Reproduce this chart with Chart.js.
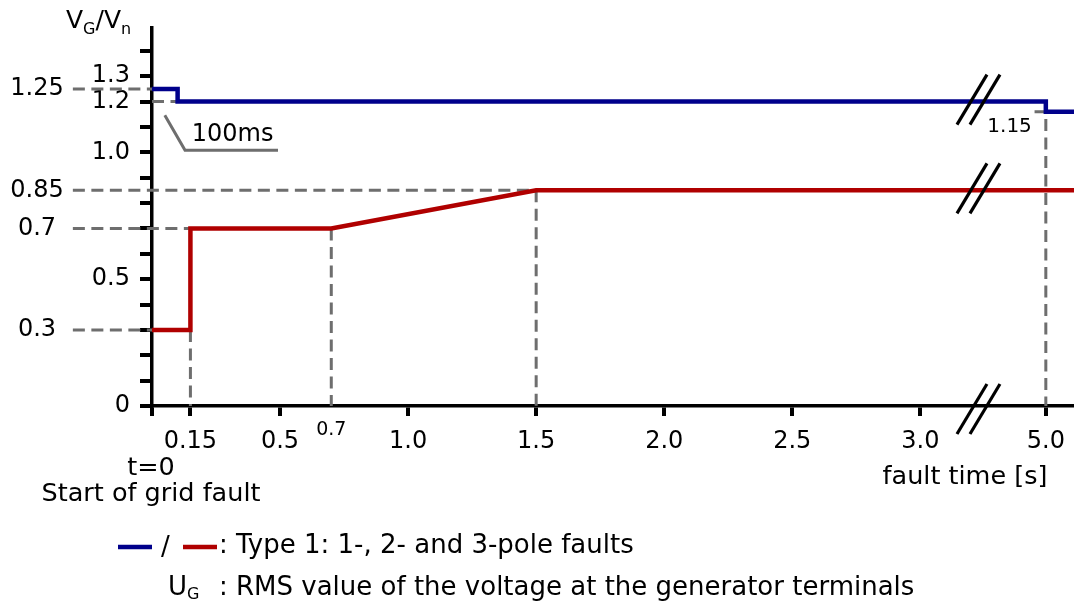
<!DOCTYPE html>
<html><head><meta charset="utf-8">
<script src="https://cdn.jsdelivr.net/npm/chart.js@4/dist/chart.umd.min.js"></script>
<style>html,body{margin:0;padding:0;background:#fff;overflow:hidden}#wrap{width:1074px;height:605px}</style>
</head><body><div id="wrap"><canvas id="c" width="1074" height="605"></canvas></div>
<script>
// ---- data (time in s, voltage in p.u.) ----
const blueTime = [0, 0.1, 0.1, 5.0, 5.0, 5.5];
const blueVolt = [1.25, 1.25, 1.2, 1.2, 1.16, 1.16];
const redTime = [0, 0.15, 0.15, 0.7, 1.5, 5.5];
const redVolt = [0.3, 0.3, 0.7, 0.7, 0.85, 0.85];
const xTickTimes = [0, 0.15, 0.5, 1.0, 1.5, 2.0, 2.5, 3.0, 5.0];
const xTickLabels = ['', '0.15', '0.5', '1.0', '1.5', '2.0', '2.5', '3.0', '5.0'];
const yTickValues = [0, 0.1, 0.2, 0.3, 0.4, 0.5, 0.6, 0.7, 0.8, 0.9, 1.0, 1.1, 1.2, 1.3, 1.4];
const yTickLabels = ['0', '', '', '', '', '0.5', '', '', '', '', '1.0', '', '1.2', '1.3', ''];
const markValues = [1.25, 0.85, 0.7, 0.3];
const markLabels = ['1.25', '0.85', '0.7', '0.3'];
const markEndTimes = [0, 1.5, 0.15, 0];
const dropTimes = [0.15, 0.7, 1.5, 5.0];
const dropValues = [0.3, 0.7, 0.85, 1.16];

// ---- axis break mapping ----
const BREAK_FROM = 3.2, BREAK_TO = 5.0, BREAK_POS = 3.49, TAIL_SCALE = 0.22;
function axisX(t) { return t <= BREAK_FROM ? t : BREAK_POS + (t - BREAK_TO) * TAIL_SCALE; }
const LEADER_X = -0.309;   // where the left leader lines start (axis units)
const BREAK_MARK_X = 3.227;

const BLUE = '#00008b', RED = '#b00000', GRAY = '#6e6e6e';
const FONT = 'DejaVu Sans';

function pts(ts, vs) { return ts.map((t, i) => ({ x: axisX(t), y: vs[i] })); }
function guide(points, clip) {
  return { data: points, borderColor: GRAY, borderWidth: 3, borderDash: [12, 6.5], pointRadius: 0,
    fill: false, tension: 0, order: 2, clip: clip ? undefined : false, borderCapStyle: 'butt' };
}

const datasets = [];
markValues.forEach((v, i) => {
  datasets.push(guide([{ x: LEADER_X, y: v }, { x: axisX(markEndTimes[i]), y: v }], false));
});
datasets.push(guide([{ x: 0, y: 1.2 }, { x: axisX(0.1), y: 1.2 }], true));
dropTimes.forEach((t, i) => {
  const p = [{ x: axisX(t), y: dropValues[i] }, { x: axisX(t), y: 0 }];
  if (t === 5.0) p.unshift({ x: axisX(4.8), y: dropValues[i] });
  datasets.push(guide(p, true));
});
datasets.push({ data: pts(redTime, redVolt), borderColor: RED, borderWidth: 4.5, pointRadius: 0, order: 0,
  borderJoinStyle: 'miter', borderCapStyle: 'butt', clip: false });
datasets.push({ data: pts(blueTime, blueVolt), borderColor: BLUE, borderWidth: 4.5, pointRadius: 0, order: 0,
  borderJoinStyle: 'miter', borderCapStyle: 'butt', clip: false });

const annot = {
  id: 'annot',
  afterDatasetsDraw(chart) {
    const ctx = chart.ctx, xs = chart.scales.x, ys = chart.scales.y;
    const X = v => xs.getPixelForValue(v), Y = v => ys.getPixelForValue(v);
    ctx.save();
    // break marks
    ctx.strokeStyle = '#000'; ctx.lineWidth = 3.2; ctx.lineCap = 'butt';
    [1.2, 0.85, 0].forEach(v => {
      const cx = X(BREAK_MARK_X), cy = Y(v) + (v === 0 ? 3 : -2);
      [-6.5, 6.5].forEach(d => {
        ctx.beginPath(); ctx.moveTo(cx + d - 15, cy + 25); ctx.lineTo(cx + d + 15, cy - 25); ctx.stroke();
      });
    });
    // 100ms callout
    ctx.strokeStyle = GRAY; ctx.lineWidth = 3;
    ctx.beginPath(); ctx.moveTo(X(0.05), Y(1.146)); ctx.lineTo(X(0.129), Y(1.008)); ctx.lineTo(X(0.492), Y(1.008)); ctx.stroke();
    ctx.fillStyle = '#000';
    ctx.textBaseline = 'middle';
    ctx.font = '24px ' + FONT; ctx.textAlign = 'left';
    ctx.fillText('100ms', X(0.155), Y(1.068));
    // outer labels
    ctx.textAlign = 'center';
    markValues.forEach((v, i) => ctx.fillText(markLabels[i], 37, Y(v)));
    // small labels
    ctx.font = '19px ' + FONT; ctx.textAlign = 'center';
    ctx.fillText('0.7', X(0.7), 430);
    ctx.font = '20px ' + FONT; ctx.textAlign = 'right';
    ctx.fillText('1.15', X(axisX(5.0)) - 14, Y(1.16) + 15);
    // bottom annotations
    ctx.font = '25.5px ' + FONT; ctx.textAlign = 'center';
    ctx.fillText('t=0', 151, 468);
    ctx.fillText('Start of grid fault', 151, 494);
    ctx.fillText('fault time [s]', 965, 477);
    // y title
    ctx.textAlign = 'left'; ctx.textBaseline = 'alphabetic';
    let x = 66;
    ctx.font = '25px ' + FONT; ctx.fillText('V', x, 28); x += ctx.measureText('V').width;
    ctx.font = '16px ' + FONT; ctx.fillText('G', x, 34); x += ctx.measureText('G').width;
    ctx.font = '25px ' + FONT; ctx.fillText('/V', x, 28); x += ctx.measureText('/V').width;
    ctx.font = '16px ' + FONT; ctx.fillText('n', x, 34);
    // legend
    ctx.lineWidth = 4.5;
    ctx.strokeStyle = BLUE; ctx.beginPath(); ctx.moveTo(118, 547); ctx.lineTo(152, 547); ctx.stroke();
    ctx.strokeStyle = RED; ctx.beginPath(); ctx.moveTo(183, 547); ctx.lineTo(217, 547); ctx.stroke();
    ctx.font = '26px ' + FONT; ctx.textBaseline = 'middle';
    ctx.fillText('/', 161, 548);
    ctx.fillText(': Type 1: 1-, 2- and 3-pole faults', 219, 546);
    ctx.fillText('U', 168, 588);
    ctx.font = '16px ' + FONT; ctx.fillText('G', 187, 595);
    ctx.font = '26px ' + FONT;
    ctx.fillText(': RMS value of the voltage at the generator terminals', 219, 588);
    ctx.restore();
  }
};

new Chart(document.getElementById('c'), {
  type: 'line',
  data: { datasets },
  options: {
    responsive: false, animation: false, devicePixelRatio: 1,
    layout: { padding: { top: 28, left: 0, right: 0, bottom: 0 } },
    plugins: { legend: { display: false }, tooltip: { enabled: false } },
    elements: { line: { tension: 0 } },
    scales: {
      x: {
        type: 'linear', min: 0, max: 3.6,
        afterBuildTicks: s => { s.ticks = xTickTimes.map(t => ({ value: axisX(t) })); },
        afterFit: s => { s.height = 199; s.paddingLeft = 0; s.paddingRight = 0; },
        ticks: { callback: (v, i) => xTickLabels[i], autoSkip: false, maxRotation: 0, color: '#000',
          font: { family: FONT, size: 24 }, padding: 11 },
        grid: { drawOnChartArea: false, color: '#000', lineWidth: 4, tickLength: 10 },
        border: { color: '#000', width: 3.5 }
      },
      y: {
        type: 'linear', min: 0, max: 1.49,
        afterBuildTicks: s => { s.ticks = yTickValues.map(v => ({ value: v })); },
        afterFit: s => { s.width = 152; s.paddingTop = 0; s.paddingBottom = 0; },
        ticks: { callback: (v, i) => yTickLabels[i], autoSkip: false, color: '#000',
          font: { family: FONT, size: 24 }, padding: 10 },
        grid: { drawOnChartArea: false, color: '#000', lineWidth: 4, tickLength: 12 },
        border: { color: '#000', width: 3.5 }
      }
    }
  },
  plugins: [annot]
});
</script></body></html>
